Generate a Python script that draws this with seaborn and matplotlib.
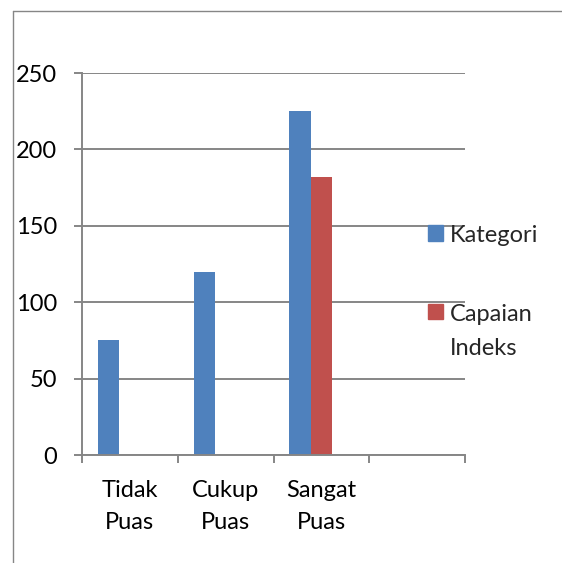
import matplotlib
matplotlib.use("Agg")
import matplotlib.pyplot as plt
import numpy as np
import pandas as pd
import seaborn as sns
from matplotlib.lines import Line2D
from matplotlib.patches import Rectangle
from matplotlib.ticker import FixedLocator, NullFormatter

# data
categories = ["Tidak\nPuas", "Cukup\nPuas", "Sangat\nPuas", ""]
kategori = [75, 120, 225, np.nan]
capaian_indeks = [np.nan, np.nan, 182, np.nan]
series_names = ["Kategori", "Capaian\nIndeks", "kosong"]
series_colors = ["#4F81BD", "#C0504D", "#FFFFFF"]
y_ticks = [0, 50, 100, 150, 200, 250]

rows = []
for cat, k, c in zip(categories, kategori, capaian_indeks):
    rows.append({"cat": cat, "series": series_names[0], "value": k})
    rows.append({"cat": cat, "series": series_names[1], "value": c})
    rows.append({"cat": cat, "series": series_names[2], "value": np.nan})
df = pd.DataFrame(rows)

sns.set_theme(style="white")
plt.rcParams["font.family"] = ["Lato", "DejaVu Sans"]
grey = "#868686"
fs = 17

fig = plt.figure(figsize=(5.62, 5.63), dpi=100)
ax = fig.add_axes([82 / 562, 1 - 455 / 563, (465 - 82) / 562, (455 - 73) / 563])

sns.barplot(
    data=df, x="cat", y="value", hue="series", order=categories,
    hue_order=series_names, palette=series_colors, width=0.67,
    saturation=1, errorbar=None, legend=False, ax=ax
    )
for p in ax.patches:
    p.set_linewidth(0)

ax.set_xlim(-0.5, len(categories) - 0.5)
ax.set_ylim(0, 250)
ax.set_yticks(y_ticks)
ax.yaxis.grid(True, color=grey, linewidth=1.4)
ax.set_axisbelow(True)
ax.set_xlabel("")
ax.set_ylabel("")

for side in ["top", "right"]:
    ax.spines[side].set_visible(False)
for side in ["left", "bottom"]:
    ax.spines[side].set_color(grey)
    ax.spines[side].set_linewidth(1.4)

ax.xaxis.set_minor_locator(FixedLocator(np.arange(-0.5, len(categories), 1)))
ax.xaxis.set_minor_formatter(NullFormatter())
ax.tick_params(axis="x", which="major", length=0, pad=18, labelsize=fs,
               colors="black")
ax.tick_params(axis="x", which="minor", length=6, width=1.4, color=grey,
               direction="out", bottom=True)
ax.tick_params(axis="y", which="major", length=6, width=1.4, color=grey,
               direction="out", left=True, pad=12, labelsize=fs,
               labelcolor="black")
for lbl in ax.get_xticklabels():
    lbl.set_linespacing(1.65)

handles = [Rectangle((0, 0), 1, 1, color=c) for c in series_colors[:2]]
leg = ax.legend(
    handles, series_names[:2], loc="upper left",
    bbox_to_anchor=(428 / 562, 1 - 225 / 563), bbox_transform=fig.transFigure,
    frameon=False, fontsize=fs, handlelength=0.64, handleheight=0.64,
    handletextpad=0.28, labelspacing=2.45, borderpad=0, borderaxespad=0
    )
for txt in leg.get_texts():
    txt.set_linespacing(1.75)
# put the colour square beside the first line of each label
for col in leg._legend_handle_box.get_children():
    for row in col.get_children():
        row.align = "top"

# outer chart frame (clipped by the image on the right and bottom)
fig.add_artist(Line2D([13 / 562, 1], [1 - 11 / 563] * 2, color=grey,
                      linewidth=1.0, transform=fig.transFigure))
fig.add_artist(Line2D([13 / 562] * 2, [0, 1 - 11 / 563], color=grey,
                      linewidth=1.0, transform=fig.transFigure))

fig.savefig("out.png", dpi=100)
